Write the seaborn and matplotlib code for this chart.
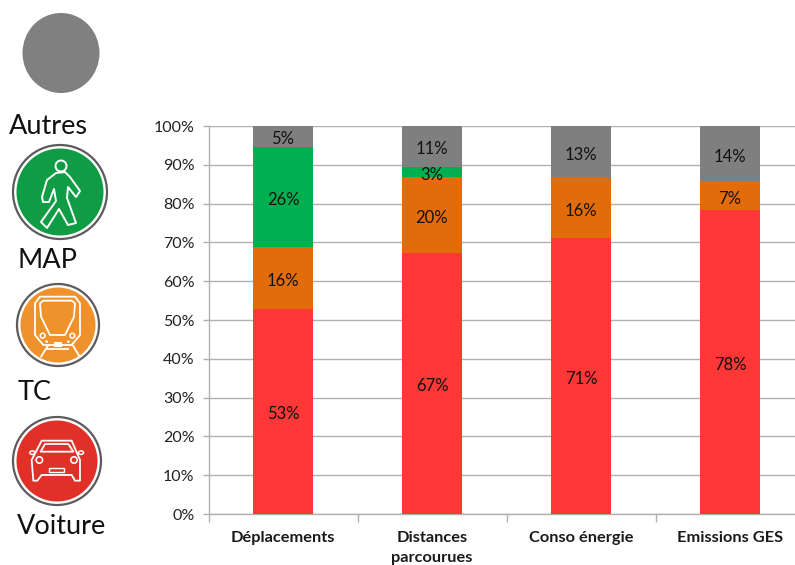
import matplotlib
matplotlib.use("Agg")
import matplotlib.pyplot as plt
from matplotlib.patches import Circle, Ellipse, Polygon, Rectangle
from matplotlib.ticker import PercentFormatter
import seaborn as sns

categories = ["Déplacements", "Distances\nparcourues", "Conso énergie", "Emissions GES"]
voiture = [52.8, 67.2, 71.1, 78.3]
tc = [15.9, 19.6, 15.6, 7.4]
map_share = [25.9, 2.6, 0.0, 0.0]
autres = [5.4, 10.6, 13.3, 14.3]

series = [voiture, tc, map_share, autres]
colors = ["#FF3737", "#E36C0A", "#00B050", "#7F7F7F"]

W, H = 795, 565
sns.set_theme(style="white")
plt.rcParams["font.family"] = ["Lato", "DejaVu Sans"]

fig = plt.figure(figsize=(W / 100, H / 100), dpi=100, facecolor="white")
left, right, top, bottom = 208.5, 795, 126, 514
ax = fig.add_axes([left / W, 1 - bottom / H, (right - left) / W, (bottom - top) / H])

# Stack the four modes bar by bar
base = [0.0] * len(categories)
for values, color in zip(series, colors):
    sns.barplot(x=categories, y=values, bottom=base, color=color, saturation=1,
                width=0.4, ax=ax, zorder=3, linewidth=0)
    for i, v in enumerate(values):
        if v > 0:
            ax.annotate(f"{v:.0f}%", (i, base[i] + v / 2), xytext=(0, -2),
                        textcoords="offset points", ha="center", va="center",
                        fontsize=12, color="#111111", zorder=4)
    base = [b + v for b, v in zip(base, values)]

ax.set_xlim(-0.5, -0.5 + (right - left) / 149)
ax.set_ylim(0, 100)
ax.set_yticks(range(0, 101, 10))
ax.yaxis.set_major_formatter(PercentFormatter(100, decimals=0))
ax.yaxis.grid(True, color="#B0B0B0", linewidth=1, zorder=0)
ax.set_axisbelow(True)

ax.set_xticks([-0.5, 0.5, 1.5, 2.5])
ax.set_xticklabels([])
ax.set_xticks(range(len(categories)), minor=True)
ax.set_xticklabels(categories, minor=True, fontweight="bold", fontsize=11.8,
                   color="#1a1a1a", linespacing=1.55)
ax.tick_params(axis="x", which="major", bottom=True, length=6, width=1, color="#B0B0B0")
ax.tick_params(axis="x", which="minor", bottom=False, length=0, pad=12)
ax.tick_params(axis="y", left=True, length=4, width=1, color="#B0B0B0",
               labelsize=11.5, labelcolor="#222222", pad=6)

for side in ("top", "right"):
    ax.spines[side].set_visible(False)
for side in ("left", "bottom"):
    ax.spines[side].set_color("#B0B0B0")
    ax.spines[side].set_linewidth(1)

# Mode pictograms on the left, laid out in pixel units
ov = fig.add_axes([0, 0, 1, 1], facecolor="none")
ov.set_xlim(0, W)
ov.set_ylim(H, 0)
ov.axis("off")


def badge(cx, cy, r, fill):
    ov.add_patch(Circle((cx, cy), r, fc="white", ec="#5f5a5c", lw=1.6))
    ov.add_patch(Circle((cx, cy), r - 3.5, fc=fill, ec="none"))


def outline(points, closed=True, lw=1.3):
    ov.add_patch(Polygon(points, closed=closed, fill=False, ec="white", lw=lw, joinstyle="round"))


def z(points):
    return [(x / 3, 270 + y / 3) for x, y in points]


ov.add_patch(Ellipse((61, 53), 77, 80, fc="#808080", ec="none"))

# Pedestrian
badge(60, 192, 47, "#109C45")
ov.add_patch(Circle((61, 166), 5.5, fill=False, ec="white", lw=1.4))
outline([(56, 173), (47, 180), (42, 197), (43, 202), (49, 202), (54, 189), (56, 201), (41, 222),
         (47, 228), (59, 209), (68, 225), (76, 223), (67, 198), (68, 187), (76, 197),
         (80, 191), (70, 177), (65, 172)], lw=1.4)

# Tram
badge(58, 325, 41, "#F0922B")
outline(z([(105, 195), (105, 100), (120, 80), (225, 80), (240, 100), (240, 195), (215, 225), (130, 225)]))
outline(z([(120, 100), (130, 92), (215, 92), (225, 100), (222, 140), (195, 195), (150, 195), (123, 140)]))
for (x, y), r in zip(z([(128, 197), (217, 197)]), (2.4, 2.4)):
    ov.add_patch(Circle((x, y), r, fill=False, ec="white", lw=1.1))
for x, y in z([(140, 215), (205, 215)]):
    ov.add_patch(Circle((x, y), 1.3, fc="white", ec="none"))
ov.add_patch(Rectangle((163 / 3, 270 + 216 / 3), 24 / 3, 14 / 3, fc="white", ec="none"))
outline(z([(122, 262), (145, 225)]), closed=False)
outline(z([(218, 225), (240, 262)]), closed=False)
outline(z([(138, 238), (208, 238)]), closed=False)

# Car
badge(57, 461, 44, "#E03028")
outline(z([(100, 632), (95, 570), (125, 512), (215, 512), (240, 570), (240, 632), (225, 632),
           (215, 615), (125, 615), (112, 632)]))
outline(z([(122, 545), (135, 522), (205, 522), (220, 545)]))
for x, y in z([(118, 570), (222, 570)]):
    ov.add_patch(Circle((x, y), 3.2, fill=False, ec="white", lw=1.2))
for x, y in z([(97, 548), (243, 548)]):
    ov.add_patch(Ellipse((x, y), 5, 3.5, fill=False, ec="white", lw=1.1))
ov.add_patch(Rectangle((148 / 3, 270 + 595 / 3), 44 / 3, 10 / 3, fill=False, ec="white", lw=1))

mode_labels = ["Autres", "MAP", "TC", "Voiture"]
label_xy = [(9, 126), (18, 260), (18, 392), (17, 527)]
for text, (x, y) in zip(mode_labels, label_xy):
    ov.text(x, y, text, fontsize=19.5, color="#111111", ha="left", va="center")

fig.savefig("out.png", dpi=100, facecolor="white")
